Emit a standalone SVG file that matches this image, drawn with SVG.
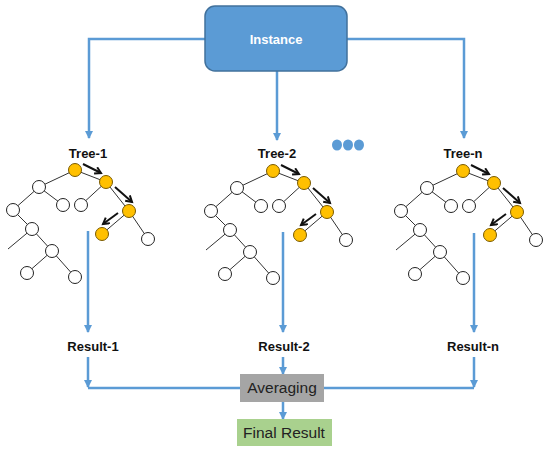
<svg xmlns="http://www.w3.org/2000/svg" width="550" height="454" viewBox="0 0 550 454">
<defs>
<style>
.conn{fill:none;stroke:#5B9BD5;stroke-width:2.5}
.edge{stroke:#333;stroke-width:1}
.w{fill:#fff;stroke:#222;stroke-width:1}
.o{fill:#FFC000;stroke:#7a5a00;stroke-width:1}
.ba{stroke:#111;stroke-width:2;fill:none}
.lbl{font-family:"Liberation Sans",Arial,sans-serif;font-weight:bold;font-size:13px;fill:#111;text-anchor:middle}
.box{font-family:"Liberation Sans",Arial,sans-serif;font-size:15.5px;fill:#222;text-anchor:middle}
</style>
<marker id="ah" markerUnits="userSpaceOnUse" markerWidth="9" markerHeight="9" refX="7" refY="4" orient="auto">
<path d="M0,0 L8,4 L0,8 z" fill="#5B9BD5"/>
</marker>
<marker id="bh" markerUnits="userSpaceOnUse" markerWidth="10" markerHeight="10" refX="7" refY="4" orient="auto">
<path d="M1,0.5 L7,4 L1,7.5" fill="none" stroke="#111" stroke-width="2"/>
</marker>
<g id="treeShape">
<g class="edge">
<line x1="75" y1="170" x2="39" y2="187"/>
<line x1="75" y1="170" x2="106" y2="182"/>
<line x1="106" y1="182" x2="81" y2="205"/>
<line x1="106" y1="182" x2="129" y2="211"/>
<line x1="129" y1="211" x2="102" y2="234"/>
<line x1="129" y1="211" x2="148" y2="239"/>
<line x1="39" y1="187" x2="63" y2="205"/>
<line x1="39" y1="187" x2="13" y2="210"/>
<line x1="13" y1="210" x2="32" y2="229"/>
<line x1="32" y1="229" x2="8" y2="249"/>
<line x1="32" y1="229" x2="52" y2="251"/>
<line x1="52" y1="251" x2="27" y2="273"/>
<line x1="52" y1="251" x2="75" y2="277"/>
</g>
<circle class="o" cx="75" cy="170" r="6.5"/>
<circle class="o" cx="106" cy="182" r="6.5"/>
<circle class="o" cx="129" cy="211" r="6.5"/>
<circle class="o" cx="102" cy="234" r="6.5"/>
<circle class="w" cx="148" cy="239" r="6.5"/>
<circle class="w" cx="81" cy="205" r="6.5"/>
<circle class="w" cx="39" cy="187" r="6.5"/>
<circle class="w" cx="63" cy="205" r="6.5"/>
<circle class="w" cx="13" cy="210" r="6.5"/>
<circle class="w" cx="32" cy="229" r="6.5"/>
<circle class="w" cx="52" cy="251" r="6.5"/>
<circle class="w" cx="27" cy="273" r="6.5"/>
<circle class="w" cx="75" cy="277" r="6.5"/>
<line class="ba" x1="83" y1="164" x2="101" y2="173" marker-end="url(#bh)"/>
<line class="ba" x1="115" y1="187" x2="132" y2="202" marker-end="url(#bh)"/>
<line class="ba" x1="118" y1="213" x2="103" y2="224" marker-end="url(#bh)"/>
</g>
</defs>

<g id="connectors">
<path class="conn" d="M205,39 H89 V138" marker-end="url(#ah)"/>
<path class="conn" d="M347,39 H464 V138" marker-end="url(#ah)"/>
<path class="conn" d="M277,71 V140" marker-end="url(#ah)"/>
<path class="conn" d="M88,231 V332" marker-end="url(#ah)"/>
<path class="conn" d="M283,232 V332" marker-end="url(#ah)"/>
<path class="conn" d="M474,233 V332" marker-end="url(#ah)"/>
<path class="conn" d="M88,357 V387" marker-end="url(#ah)"/>
<path class="conn" d="M474,357 V387" marker-end="url(#ah)"/>
<path class="conn" d="M88,388 H240"/>
<path class="conn" d="M324,388 H474"/>
<path class="conn" d="M283,357 V374" marker-end="url(#ah)"/>
<path class="conn" d="M283,402 V419" marker-end="url(#ah)"/>
</g>

<g id="instance">
<rect x="205" y="6" width="142" height="65" rx="10" fill="#5B9BD5" stroke="#41719C" stroke-width="1.5"/>
<text x="276" y="44" font-family="'Liberation Sans',Arial,sans-serif" font-weight="bold" font-size="13" fill="#fff" text-anchor="middle">Instance</text>
</g>

<g id="tree-1">
<use href="#treeShape"/>
<text class="lbl" x="88" y="158">Tree-1</text>
</g>
<g id="tree-2">
<use href="#treeShape" transform="translate(198,1)"/>
<text class="lbl" x="277" y="158">Tree-2</text>
</g>
<g id="dots">
<ellipse cx="337" cy="145" rx="5" ry="5.5" fill="#5B9BD5"/>
<ellipse cx="348" cy="145" rx="5" ry="5.5" fill="#5B9BD5"/>
<ellipse cx="359" cy="145" rx="5" ry="5.5" fill="#5B9BD5"/>
</g>
<g id="tree-n">
<use href="#treeShape" transform="translate(388,1)"/>
<text class="lbl" x="463" y="158">Tree-n</text>
</g>

<g id="result-1"><text class="lbl" x="93" y="351">Result-1</text></g>
<g id="result-2"><text class="lbl" x="284" y="351">Result-2</text></g>
<g id="result-n"><text class="lbl" x="473" y="351">Result-n</text></g>

<g id="averaging">
<rect x="240" y="374" width="84" height="28" fill="#A5A5A5"/>
<text class="box" x="282" y="393">Averaging</text>
</g>
<g id="final-result">
<rect x="237" y="419" width="95" height="27" fill="#A9D18E"/>
<text class="box" x="284" y="438">Final Result</text>
</g>
</svg>
